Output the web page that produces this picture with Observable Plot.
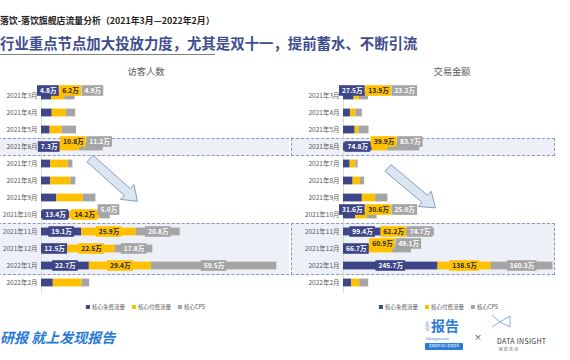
<!DOCTYPE html>
<html><head><meta charset="utf-8">
<script src="https://cdn.jsdelivr.net/npm/d3@7"></script>
<script src="https://cdn.jsdelivr.net/npm/@observablehq/plot@0.6"></script>
<style>
html,body{margin:0;padding:0}
body{width:570px;height:360px;overflow:hidden;background:#fff;position:relative;font-family:"Noto Sans CJK SC","Noto Sans",sans-serif}
.abs{position:absolute;white-space:nowrap}
.band{position:absolute;background:#eef0f8;border-top:1px dashed #8d93c4;border-bottom:1px dashed #8d93c4;box-sizing:border-box}
.legend{position:absolute;display:flex;align-items:center;font-size:5.5px;color:#595959;white-space:nowrap}
.legend span.sw{display:inline-block;width:4px;height:4px;margin-right:2px}
.legend span.it{margin-right:7px}
</style></head><body>
<script>
// ---- data ----
const months = ["2021年3月","2021年4月","2021年5月","2021年6月","2021年7月","2021年8月","2021年9月","2021年10月","2021年11月","2021年12月","2022年1月","2022年2月"];
const seriesNames = ["核心免费流量","核心付费流量","核心CPS"];
const visitorsFree = [4.8,5.1,4.1,7.3,4.4,4.4,7.3,13.4,19.1,12.5,22.7,5.6];
const visitorsPaid = [6.2,6.7,5.7,10.8,8.3,9.5,12.5,14.2,25.9,22.5,29.4,13.7];
const visitorsCps  = [4.9,4.4,6.8,11.2,2.2,2.4,6.0,5.0,20.8,17.8,59.5,3.6];
const salesFree = [27.5,18.1,30.2,74.8,17.3,25.0,49.0,31.6,99.4,66.7,245.7,21.5];
const salesPaid = [13.9,13.9,10.3,39.9,14.7,19.0,34.5,30.6,62.2,60.9,138.5,20.7];
const salesCps  = [23.2,17.0,25.8,83.7,6.0,11.0,31.9,25.0,74.7,49.1,160.3,23.3];
const labeledMonths = ["2021年3月","2021年6月","2021年10月","2021年11月","2021年12月","2022年1月"];
const highlightSingle = ["2021年6月"];
const highlightGroup = ["2021年11月","2021年12月","2022年1月"];
const chartTitles = ["访客人数","交易金额"];
const titleText = "落饮-落饮旗舰店流量分析（2021年3月—2022年2月）";
const subtitleText = "行业重点节点加大投放力度，尤其是双十一，提前蓄水、不断引流";

// ---- styles ----
const colors = ["#3e4687","#ffc000","#a5a5a5"];
const fontFam = "'Noto Sans CJK SC','Noto Sans',sans-serif";
const chartTop = 72, marginTop = 12.3, plotHeight = 221;

const cv = document.createElement("canvas").getContext("2d");
cv.font = "bold 6.7px " + fontFam;
const measure = t => cv.measureText(t).width;

function el(tag, cls, css, text){
  const e = document.createElement(tag);
  if (cls) e.className = cls;
  Object.assign(e.style, css||{});
  if (text != null) e.textContent = text;
  document.body.appendChild(e);
  return e;
}

function makeChart(free, paid, cps, left, width, marginLeft, domainMax){
  const series = [free, paid, cps];
  const data = months.flatMap((m,i)=> seriesNames.map((s,j)=>({month:m, series:s, value:series[j][i]})));
  const k = (width - marginLeft) / domainMax;
  const labels = [];
  for (const m of labeledMonths){
    const i = months.indexOf(m);
    let cum = 0, prevRight = -Infinity;
    seriesNames.forEach((s,j)=>{
      const v = series[j][i];
      const mid = k*(cum + v/2);
      cum += v;
      const text = v.toFixed(1) + "万";
      const w = measure(text) + 5;
      const x = Math.max(mid, prevRight + w/2 + 0.5, w/2 - 4);
      const raised = x - mid > 1.5;
      prevRight = x + w/2;
      labels.push({month:m, series:s, text, x:x/k, x1:(x-w/2)/k, x2:(x+w/2)/k, raised, dark: j===1});
    });
  }
  const marks = [
    Plot.ruleX([0], {stroke:"#d9d9d9"}),
    Plot.barX(data, Plot.stackX({x:"value", y:"month", fill:"series", insetTop:4.6, insetBottom:4.6}))
  ];
  for (const r of [false,true]){
    const sub = labels.filter(d=>d.raised===r);
    const dy = r ? -5 : 0;
    marks.push(Plot.barX(sub, {x1:"x1", x2:"x2", y:"month", fill:"series", insetTop:3.2, insetBottom:3.2, dy}));
    for (const dk of [false,true]){
      marks.push(Plot.text(sub.filter(d=>d.dark===dk), {x:"x", y:"month", text:"text", fill: dk ? "#262626" : "#ffffff", fontWeight:"bold", fontSize:6.7, dy}));
    }
  }
  const plot = Plot.plot({
    width, height: plotHeight, marginLeft, marginRight:0, marginTop, marginBottom:0,
    style:{background:"transparent", overflow:"visible", color:"#595959", fontSize:"6.5px", fontFamily:fontFam},
    x:{domain:[0, domainMax], axis:null},
    y:{domain:months, padding:0, tickSize:0, tickPadding:4, label:null},
    color:{domain:seriesNames, range:colors},
    marks
  });
  plot.style.position = "absolute";
  plot.style.left = left + "px";
  plot.style.top = chartTop + "px";
  return plot;
}

// header
el("div","abs",{left:"0px",top:"15px",fontSize:"8.9px",fontWeight:"bold",color:"#222",lineHeight:"12px"}, titleText);
el("div","abs",{left:"0px",top:"33px",fontSize:"14.4px",fontWeight:"bold",color:"#3f4c8e",lineHeight:"20px"}, subtitleText);
el("div","abs",{left:"0px",top:"54px",width:"215px",height:"0",borderTop:"1px solid #7f7f7f"});

const leftPlot = makeChart(visitorsFree, visitorsPaid, visitorsCps, 0, 294, 41, 120);
const rightPlot = makeChart(salesFree, salesPaid, salesCps, 290, 280, 53, 590);

// highlight bands from the y scale
const ys = leftPlot.scale("y");
const bw = ys.bandwidth;
function band(m1, m2){
  const top = chartTop + ys.apply(m1) - 0.5;
  const bottom = chartTop + ys.apply(m2) + bw + 0.5;
  el("div","band",{left:"-2px",top:top+"px",width:"291px",height:(bottom-top)+"px"});
  el("div","band",{left:"291px",top:top+"px",width:"264px",height:(bottom-top)+"px",borderLeft:"1px dashed #8d93c4",borderRight:"1px dashed #8d93c4"});
}
band(highlightSingle[0], highlightSingle[0]);
band(highlightGroup[0], highlightGroup[highlightGroup.length-1]);

document.body.appendChild(leftPlot);
document.body.appendChild(rightPlot);

// chart titles
el("div","abs",{left:"146px",top:"64px",transform:"translateX(-50%)",fontSize:"9.3px",color:"#595959"}, chartTitles[0]);
el("div","abs",{left:"452px",top:"64px",transform:"translateX(-50%)",fontSize:"9.3px",color:"#595959"}, chartTitles[1]);

// legends
function legend(cx){
  const lg = el("div","legend",{left:cx+"px",top:"303px",transform:"translateX(-50%)"});
  seriesNames.forEach((s,j)=>{
    const sw = document.createElement("span"); sw.className="sw"; sw.style.background=colors[j]; lg.appendChild(sw);
    const t = document.createElement("span"); t.className="it"; t.textContent=s; lg.appendChild(t);
  });
}
legend(149);
legend(442);

// decorative block arrows
const ns = "http://www.w3.org/2000/svg";
const deco = document.createElementNS(ns,"svg");
deco.setAttribute("width","570"); deco.setAttribute("height","360");
Object.assign(deco.style,{position:"absolute",left:"0",top:"0",pointerEvents:"none"});
function blockArrow(tx,ty,ang,L){
  const p = document.createElementNS(ns,"polygon");
  const pts = [[0,-4.5],[L-14,-4.5],[L-14,-10],[L,0],[L-14,10],[L-14,4.5],[0,4.5]];
  p.setAttribute("points", pts.map(q=>q.join(",")).join(" "));
  p.setAttribute("transform",`translate(${tx},${ty}) rotate(${ang})`);
  p.setAttribute("fill","#dbe4f1"); p.setAttribute("stroke","#7c8db8"); p.setAttribute("stroke-width","0.8");
  deco.appendChild(p);
}
blockArrow(90,158.5,42,64);
blockArrow(388,168,40,62);
// logo bowtie
const bt = document.createElementNS(ns,"path");
bt.setAttribute("d","M492 315 L500 322 L510 316 L510 327 L500 322 L492 327");
bt.setAttribute("fill","none"); bt.setAttribute("stroke","#6b9ad8"); bt.setAttribute("stroke-width","0.8");
deco.appendChild(bt);
document.body.appendChild(deco);

// footer
el("div","abs",{left:"0px",top:"328px",fontSize:"14px",fontWeight:"bold",fontStyle:"italic",color:"#2b7bd6",lineHeight:"18px"}, "研报  就上发现报告");
el("div","abs",{left:"425px",top:"321px",fontSize:"4.5px",color:"#7aa9e0",lineHeight:"5px",width:"5px",whiteSpace:"normal"}, "发现");
el("div","abs",{left:"431px",top:"317px",fontSize:"14px",fontWeight:"bold",color:"#2b7bd6",lineHeight:"16px"}, "报告");
el("div","abs",{left:"426px",top:"337px",fontSize:"3.5px",color:"#2b7bd6",lineHeight:"4px"}, "fxbaogao.com");
el("div","abs",{left:"425px",top:"343px",width:"38px",height:"7px",background:"#2b7bd6",borderRadius:"1px",fontSize:"3px",color:"#fff",lineHeight:"7px",textAlign:"center"}, "发现报告 就上发现报告");
el("div","abs",{left:"474px",top:"332px",fontSize:"8px",color:"#333",lineHeight:"10px"}, "×");
el("div","abs",{left:"497px",top:"337px",fontSize:"7px",color:"#333",lineHeight:"9px",letterSpacing:"0.3px"}, "DATA INSIGHT");
el("div","abs",{left:"499px",top:"347px",fontSize:"4px",color:"#777",lineHeight:"5px",letterSpacing:"1px"}, "解数咨询");
</script>
</body></html>
